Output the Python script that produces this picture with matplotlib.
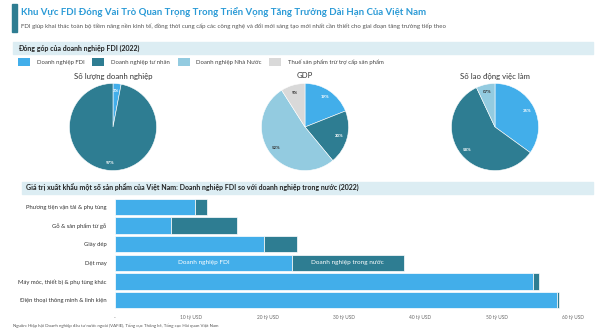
import matplotlib.pyplot as plt
import numpy as np
from matplotlib.patches import Rectangle, Patch

plt.rcParams['font.family'] = ['Lato', 'DejaVu Sans']

# Data
pie_titles = ['Số lượng doanh nghiệp', 'GDP', 'Số lao động việc làm']
legend_labels = ['Doanh nghiệp FDI', 'Doanh nghiệp tư nhân', 'Doanh nghiệp Nhà Nước',
                 'Thuế sản phẩm trừ trợ cấp sản phẩm']
firms_share = [3, 97, 0, 0]
gdp_share = [19, 20, 52, 9]
labor_share = [35, 58, 7, 0]
firms_text = ['3%', '97%', '', '']
gdp_text = ['19%', '20%', '52%', '9%']
labor_text = ['35%', '58%', '07%', '']

products = ['Phương tiện vận tải & phụ tùng', 'Gỗ & sản phẩm từ gỗ', 'Giày dép', 'Dệt may',
            'Máy móc, thiết bị & phụ tùng khác', 'Điện thoại thông minh & linh kiện']
fdi_export = [10.5, 7.4, 19.5, 23.2, 54.7, 57.9]
domestic_export = [1.5, 8.6, 4.4, 14.6, 0.9, 0.3]
xticks = [0, 10, 20, 30, 40, 50, 60]
xtick_labels = ['-', '10 tỷ USD', '20 tỷ USD', '30 tỷ USD', '40 tỷ USD', '50 tỷ USD', '60 tỷ USD']

colors = ['#42aeea', '#2e7d92', '#93cbe0', '#d9d9d9']
text_colors = ['white', 'white', '#333333', '#333333']

W, H = 600, 333
fig = plt.figure(figsize=(6, 3.33), dpi=100)


def rect(x, y, w, h):
    # pixel box (top-left origin) -> figure fraction
    return [x / W, 1 - (y + h) / H, w / W, h / H]


def fx(x):
    return x / W


def fy(y):
    return 1 - y / H


# Title block
fig.patches.append(Rectangle((fx(12), fy(32)), 5 / W, 28 / H, transform=fig.transFigure,
                             color='#2e7d92', zorder=0))
fig.text(fx(21), fy(12), 'Khu Vực FDI Đóng Vai Trò Quan Trọng Trong Triển Vọng Tăng Trưởng Dài Hạn Của Việt Nam',
         fontsize=6.9, fontweight='bold', color='#2a9ad6', va='center')
fig.text(fx(21), fy(26), 'FDI giúp khai thác toàn bộ tiềm năng nền kinh tế, đồng thời cung cấp các công nghệ và đổi mới sáng tạo mới nhất cần thiết cho giai đoạn tăng trưởng tiếp theo',
         fontsize=4.4, color='#555555', va='center')

# Section headers
fig.patches.append(Rectangle((fx(13), fy(54)), 580 / W, 12 / H, transform=fig.transFigure,
                             color='#dcedf3', zorder=0))
fig.text(fx(18), fy(48), 'Đóng góp của doanh nghiệp FDI (2022)', fontsize=5, fontweight='bold',
         color='#222222', va='center')
fig.patches.append(Rectangle((fx(22), fy(194)), 571 / W, 12 / H, transform=fig.transFigure,
                             color='#dcedf3', zorder=0))
fig.text(fx(26), fy(188), 'Giá trị xuất khẩu một số sản phẩm của Việt Nam: Doanh nghiệp FDI so với doanh nghiệp trong nước (2022)',
         fontsize=5, fontweight='bold', color='#222222', va='center')

# Legend
handles = [Patch(facecolor=c, edgecolor='none') for c in colors]
fig.legend(handles, legend_labels, loc='center left', bbox_to_anchor=(fx(13), fy(62)), ncol=4,
           frameon=False, fontsize=4.3, handlelength=2.0, handleheight=1.8, handletextpad=1.1,
           columnspacing=1.3, labelcolor='#444444')

# Pies
pie_data = [firms_share, gdp_share, labor_share]
pie_labels = [firms_text, gdp_text, labor_text]
centers = [113, 305, 495]
for title, shares, texts, cx in zip(pie_titles, pie_data, pie_labels, centers):
    ax = fig.add_axes(rect(cx - 44, 83, 88, 88))
    keep = [i for i, v in enumerate(shares) if v > 0]
    wedges, _ = ax.pie([shares[i] for i in keep], colors=[colors[i] for i in keep],
                       startangle=90, counterclock=False,
                       wedgeprops=dict(edgecolor='white', linewidth=0.4))
    for w, i in zip(wedges, keep):
        ang = np.deg2rad((w.theta1 + w.theta2) / 2)
        ax.text(0.82 * np.cos(ang), 0.82 * np.sin(ang), texts[i], ha='center', va='center',
                fontsize=3.2, fontweight='bold', color=text_colors[i])
    ax.set_xlim(-1.01, 1.01)
    ax.set_ylim(-1.01, 1.01)
    ax.set_aspect('equal')
    fig.text(fx(cx), fy(76), title, ha='center', va='center', fontsize=5.6, color='#333333')

# Export bars
ax2 = fig.add_axes(rect(115, 197.5, 458, 112))
y = range(len(products))
ax2.barh(y, fdi_export, height=0.86, color=colors[0], edgecolor='white', linewidth=0.5)
ax2.barh(y, domestic_export, left=fdi_export, height=0.86, color=colors[1],
         edgecolor='white', linewidth=0.5)
ax2.set_xlim(0, 60)
ax2.set_ylim(5.5, -0.5)
ax2.set_yticks(list(y))
ax2.set_yticklabels(products, fontsize=4.2, color='#333333')
ax2.set_xticks(xticks)
ax2.set_xticklabels(xtick_labels, fontsize=3.4, color='#666666')
ax2.tick_params(length=0, pad=6)
ax2.tick_params(axis='x', pad=4)
for s in ax2.spines.values():
    s.set_visible(False)
ax2.patch.set_alpha(0)

i = products.index('Dệt may')
ax2.text(fdi_export[i] / 2, i, 'Doanh nghiệp FDI', ha='center', va='center', fontsize=4.6, color='white')
ax2.text(fdi_export[i] + domestic_export[i] / 2, i, 'Doanh nghiệp trong nước', ha='center',
         va='center', fontsize=4.6, color='white')

fig.text(fx(13), fy(326), 'Nguồn: Hiệp hội Doanh nghiệp đầu tư nước ngoài (VAFIE), Tổng cục Thống kê, Tổng cục Hải quan Việt Nam',
         fontsize=3.2, color='#555555', va='center')

fig.savefig('out.png', dpi=100)
